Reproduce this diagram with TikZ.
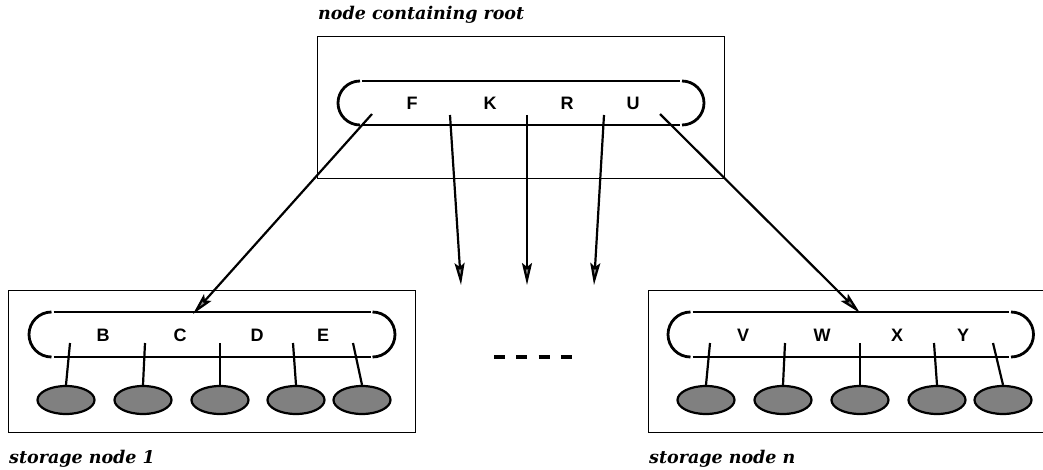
\documentclass[tikz,border=0pt]{standalone}
\usepackage{fontspec}
\newfontfamily\keyfont{Liberation Sans}
\newfontfamily\capfont{DejaVu Serif}
\usetikzlibrary{arrows.meta,shapes.geometric}
\tikzset{
  frame/.style={line width=0.9pt},
  capsule/.style={line width=2.8pt},
  keylabel/.style={font=\keyfont\bfseries\fontsize{18}{18}\selectfont, inner sep=0pt},
  ptr/.style={line width=2.2pt},
  child/.style={ellipse, draw, line width=2.2pt, fill=black!50, minimum width=57pt, minimum height=28pt, inner sep=0pt},
  link/.style={line width=2.2pt, -{Stealth[length=22pt,width=10pt,inset=4pt,fill=black!45]}},
  caption/.style={font=\capfont\bfseries\itshape\fontsize{17.5}{17.5}\selectfont, anchor=base west, inner sep=0pt}
}
% capsule outline: left centre, right centre, middle height, radius
\newcommand{\drawcapsule}[4]{%
  \draw[capsule] (#1,#3-#4) arc[start angle=270, end angle=90, radius=#4];
  \draw[capsule] (#2,#3-#4) arc[start angle=-90, end angle=90, radius=#4];
  \draw[capsule] (#1+2,#3-#4) -- (#2-2,#3-#4);
  \draw[capsule] (#1+2,#3+#4) -- (#2-2,#3+#4);
}

\begin{document}
\begin{tikzpicture}[x=1pt,y=-1pt]
                \useasboundingbox (0,0) rectangle (1043,470);

                %root node, frame and keys first
                \draw[frame] (317,36) rectangle (724,178);
                \drawcapsule{360}{682}{103}{22}
                \node[keylabel] (F) at (412,103) {F};
                \node[keylabel] (K) at (490,103) {K};
                \node[keylabel] (R) at (567,103) {R};
                \node[keylabel] (U) at (633,103) {U};
                \node[caption] (rootcap) at (318,20) {node containing root};

                %pointers leaving the root
                \coordinate (r1) at (372,114);
                \coordinate (r2) at (450,115);
                \coordinate (r3) at (527,115);
                \coordinate (r4) at (604,115);
                \coordinate (r5) at (660,114);

                %storage node 1
                \draw[frame] (8,290) rectangle (415,432);
                \drawcapsule{51.5}{372.5}{334.5}{22.5}
                \node[keylabel] (B) at (103,335) {B};
                \node[keylabel] (C) at (180,335) {C};
                \node[keylabel] (D) at (257,335) {D};
                \node[keylabel] (E) at (323,335) {E};
                \node[caption] (cap1) at (9,463) {storage node 1};

                \node[child] (a1) at (66,400) {};
                \node[child] (a2) at (143,400) {};
                \node[child] (a3) at (220,400) {};
                \node[child] (a4) at (296,400) {};
                \node[child] (a5) at (362,400) {};

                \coordinate (p1) at (70,343);
                \coordinate (p2) at (145,343);
                \coordinate (p3) at (220,343);
                \coordinate (p4) at (293,343);
                \coordinate (p5) at (353,343);
                \foreach \i in {1,...,5}
                  \draw[ptr] (p\i) -- (a\i.north);

                %storage node n, cut at the right border
                \draw[frame] (1044,290) -- (648,290) -- (648,432) -- (1044,432);
                \drawcapsule{690.5}{1011}{334.5}{22.5}
                \node[keylabel] (V) at (743,335) {V};
                \node[keylabel] (W) at (822,335) {W};
                \node[keylabel] (X) at (897,335) {X};
                \node[keylabel] (Y) at (963,335) {Y};
                \node[caption] (capn) at (649,463) {storage node n};

                \node[child] (b1) at (706,400) {};
                \node[child] (b2) at (783,400) {};
                \node[child] (b3) at (860,400) {};
                \node[child] (b4) at (937,400) {};
                \node[child] (b5) at (1003,400) {};

                \coordinate (q1) at (710,343);
                \coordinate (q2) at (785,343);
                \coordinate (q3) at (860,343);
                \coordinate (q4) at (934,343);
                \coordinate (q5) at (993,343);
                \foreach \i in {1,...,5}
                  \draw[ptr] (q\i) -- (b\i.north);

                %arrow tips
                \coordinate (t1) at (193,314);
                \coordinate (t2) at (461,285);
                \coordinate (t3) at (527,285);
                \coordinate (t4) at (594,285);
                \coordinate (t5) at (860,313);
                \foreach \i in {1,...,5}
                  \draw[link] (r\i) -- (t\i);

                %the dots between storage nodes
                \coordinate (d1) at (494,357);
                \coordinate (d2) at (572,357);
                \draw[line width=4pt, dash pattern=on 11pt off 11.3pt] (d1) -- (d2);
            \end{tikzpicture}
\end{document}
